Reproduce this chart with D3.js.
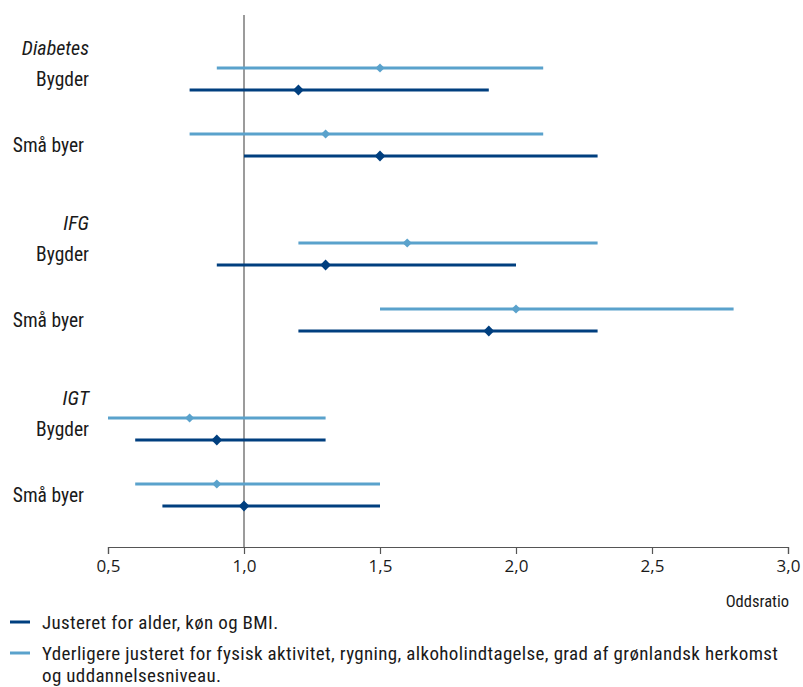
<!DOCTYPE html>
<html><head><meta charset="utf-8">
<script src="https://cdn.jsdelivr.net/npm/d3@7"></script>
<style>
html,body{margin:0;padding:0;background:#fff;}
text{font-family:"Liberation Sans Narrow","Roboto Condensed","Open Sans",sans-serif;fill:#1a1a1a;}
</style></head>
<body><svg id="c" width="803" height="687"></svg>
<script>
const groups = ["Diabetes", "IFG", "IGT"];
const places = ["Bygder", "Små byer"];
const seriesNames = ["Justeret for alder, køn og BMI.",
  "Yderligere justeret for fysisk aktivitet, rygning, alkoholindtagelse, grad af grønlandsk herkomst",
  "og uddannelsesniveau."];
// per group, per place: [lower, estimate, upper]
const darkValues = [
  [[0.8, 1.2, 1.9], [1.0, 1.5, 2.3]],
  [[0.9, 1.3, 2.0], [1.2, 1.9, 2.3]],
  [[0.6, 0.9, 1.3], [0.7, 1.0, 1.5]]
];
const lightValues = [
  [[0.9, 1.5, 2.1], [0.8, 1.3, 2.1]],
  [[1.2, 1.6, 2.3], [1.5, 2.0, 2.8]],
  [[0.5, 0.8, 1.3], [0.6, 0.9, 1.5]]
];
const xTicks = [0.5, 1.0, 1.5, 2.0, 2.5, 3.0];
const xLabel = "Oddsratio";

const DARK = "#003f7f", LIGHT = "#5aa2cc";
const svg = d3.select("#c");
const x = d3.scaleLinear().domain([0.5, 3.0]).range([108, 788]);
const yGroup = d3.scaleBand().domain(groups).range([79, 79 + 3 * 175]);
const yPlace = d3.scalePoint().domain(places).range([0, 66]);
const rowY = (g, p) => yGroup(g) + yPlace(p);

const fmt = d3.formatLocale({decimal: ",", thousands: ".", grouping: [3], currency: ["", ""]}).format(".1f");

// reference line at 1
svg.append("line").attr("x1", x(1)).attr("x2", x(1)).attr("y1", 15).attr("y2", 547)
  .attr("stroke", "#7a7a7a").attr("stroke-width", 1.5);

// axis
const axis = svg.append("g").attr("transform", "translate(0,547)")
  .call(d3.axisBottom(x).tickValues(xTicks).tickFormat(fmt).tickSizeOuter(0).tickSize(7));
axis.select(".domain").attr("stroke", "#555").attr("stroke-width", 1.2);
axis.selectAll(".tick line").attr("stroke", "#555").attr("stroke-width", 1.2);
axis.selectAll(".tick text").attr("font-size", 17).attr("dy", "0.9em")
  .style("font-family", "'Liberation Sans Narrow','Open Sans',sans-serif").attr("fill", "#1a1a1a");
svg.append("text").attr("x", 789).attr("y", 607).attr("text-anchor", "end")
  .attr("font-size", 16.5).text(xLabel);

// labels
groups.forEach((g, gi) => {
  svg.append("text").attr("x", 89).attr("y", rowY(g, places[0]) - 31).attr("dy", "0.35em")
    .attr("text-anchor", "end").attr("font-size", 20).attr("font-style", "italic").text(g);
  places.forEach((p, pi) => {
    svg.append("text").attr("x", pi === 0 ? 89 : 84).attr("y", rowY(g, p)).attr("dy", "0.35em")
      .attr("text-anchor", "end").attr("font-size", 19.5).text(p);
  });
});

function drawSeries(values, color, offset, size) {
  const data = [];
  groups.forEach((g, gi) => places.forEach((p, pi) => {
    const v = values[gi][pi];
    data.push({y: rowY(g, p) + offset, lo: v[0], est: v[1], hi: v[2]});
  }));
  const gg = svg.append("g");
  gg.selectAll("line").data(data).join("line")
    .attr("x1", d => x(d.lo)).attr("x2", d => x(d.hi))
    .attr("y1", d => d.y).attr("y2", d => d.y)
    .attr("stroke", color).attr("stroke-width", 3);
  gg.selectAll("path").data(data).join("path")
    .attr("d", d3.symbol().type(d3.symbolSquare).size(size))
    .attr("transform", d => `translate(${x(d.est)},${d.y}) rotate(45)`)
    .attr("fill", color);
}
drawSeries(lightValues, LIGHT, -11, 42);
drawSeries(darkValues, DARK, 11, 58);

// legend
const leg = svg.append("g");
leg.append("line").attr("x1", 10).attr("x2", 30).attr("y1", 622).attr("y2", 622).attr("stroke", DARK).attr("stroke-width", 3);
leg.append("text").attr("x", 42).attr("y", 622).attr("dy", "0.35em").attr("font-size", 19)
  .attr("letter-spacing", 0.35).text(seriesNames[0]);
leg.append("line").attr("x1", 10).attr("x2", 30).attr("y1", 653).attr("y2", 653).attr("stroke", LIGHT).attr("stroke-width", 3);
const t2 = leg.append("text").attr("x", 42).attr("y", 653).attr("font-size", 19).attr("letter-spacing", 0.35);
t2.append("tspan").attr("x", 42).attr("dy", "0.35em").text(seriesNames[1]);
t2.append("tspan").attr("x", 42).attr("dy", "1.18em").text(seriesNames[2]);
</script></body></html>
